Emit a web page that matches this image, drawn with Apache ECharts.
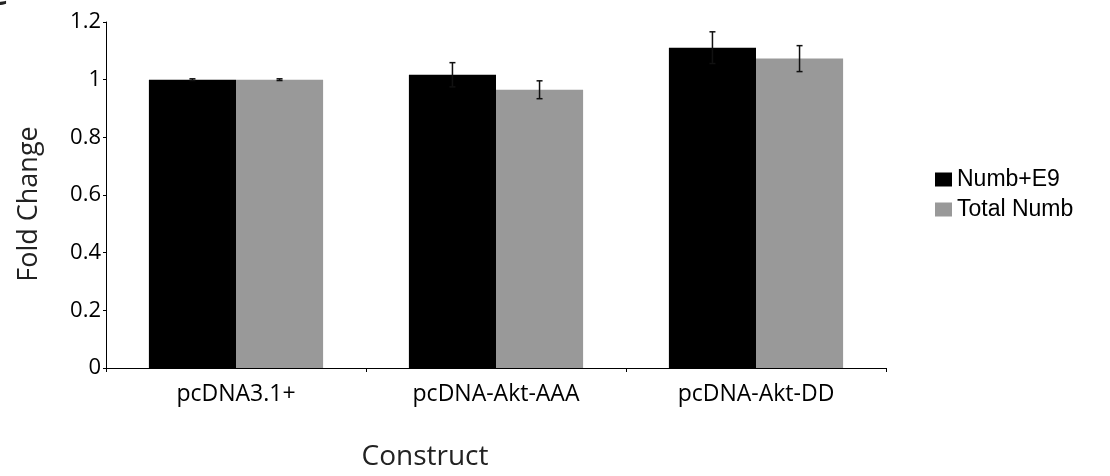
<!DOCTYPE html>
<html>
<head>
<meta charset="utf-8">
<script src="https://cdn.jsdelivr.net/npm/echarts@6/dist/echarts.min.js"></script>
<style>html,body{margin:0;padding:0;background:#fff;}#chart{width:1110px;height:476px;}</style>
</head>
<body>
<div id="chart"></div>
<script>
const categories = ['pcDNA3.1+', 'pcDNA-Akt-AAA', 'pcDNA-Akt-DD'];
const seriesNames = ['Numb+E9', 'Total Numb'];
const numbE9 = [1.0, 1.017, 1.111];
const numbE9Err = [0.003, 0.042, 0.055];
const totalNumb = [1.0, 0.965, 1.073];
const totalNumbErr = [0.003, 0.031, 0.045];
const yTicks = [0, 0.2, 0.4, 0.6, 0.8, 1, 1.2];

const chart = echarts.init(document.getElementById('chart'));
const axisFont = '"Open Sans", Lato, sans-serif';
const catGap = 0.33;

function errSeries(vals, errs, side) {
  return {
    type: 'custom',
    z: 10,
    silent: true,
    data: vals.map((v, i) => [i, v, errs[i]]),
    renderItem: function (params, api) {
      const i = api.value(0), v = api.value(1), e = api.value(2);
      const band = api.size([1, 0])[0];
      const bw = band * (1 - catGap) / 2;
      const c = api.coord([i, v]);
      const x = c[0] + side * bw / 2;
      const top = api.coord([i, v + e])[1];
      const bot = api.coord([i, v - e])[1];
      const cap = 3;
      const st = { stroke: '#111', lineWidth: 1.5 };
      return {
        type: 'group',
        children: [
          { type: 'line', shape: { x1: x, y1: top, x2: x, y2: bot }, style: st },
          { type: 'line', shape: { x1: x - cap, y1: top, x2: x + cap, y2: top }, style: st },
          { type: 'line', shape: { x1: x - cap, y1: bot, x2: x + cap, y2: bot }, style: st }
        ]
      };
    }
  };
}

chart.setOption({
  animation: false,
  backgroundColor: '#fff',
  grid: { left: 106, right: 224, top: 22, bottom: 107, containLabel: false },
  legend: {
    orient: 'vertical',
    left: 935,
    top: 168,
    padding: 0,
    itemWidth: 17,
    itemHeight: 14,
    itemGap: 7,
    icon: 'rect',
    data: seriesNames,
    textStyle: { fontFamily: '"Liberation Sans", Arial, sans-serif', fontSize: 23, lineHeight: 23, color: '#000' }
  },
  graphic: [
    { type: 'text', left: -18, top: -28, style: { text: 'C', fontSize: 42, fontFamily: axisFont, fill: '#222' } }
  ],
  xAxis: {
    type: 'category',
    data: categories,
    name: 'Construct',
    nameLocation: 'middle',
    nameGap: 75,
    nameTextStyle: { fontFamily: axisFont, fontSize: 28, color: '#222', padding: [0, 142, 0, 0] },
    axisLine: { lineStyle: { color: '#000', width: 1 } },
    axisTick: { show: true, length: 4, lineStyle: { color: '#000' } },
    axisLabel: { fontFamily: axisFont, fontSize: 23, color: '#000', margin: 15 }
  },
  yAxis: {
    type: 'value',
    min: 0,
    max: 1.2,
    interval: 0.2,
    name: 'Fold Change',
    nameLocation: 'middle',
    nameGap: 63,
    nameTextStyle: { fontFamily: axisFont, fontSize: 27, color: '#222', padding: [0, 18, 0, 0] },
    splitLine: { show: false },
    axisLine: { show: true, lineStyle: { color: '#000', width: 1 } },
    axisTick: { show: true, length: 3, lineStyle: { color: '#000' } },
    axisLabel: {
      fontFamily: axisFont, fontSize: 22, color: '#000', margin: 5,
      formatter: v => { const t = yTicks.find(x => Math.abs(x - v) < 1e-9); return t === undefined ? '' : String(t); }
    }
  },
  series: [
    { name: seriesNames[0], type: 'bar', data: numbE9, barGap: '0%', barCategoryGap: '33%', itemStyle: { color: '#000' } },
    { name: seriesNames[1], type: 'bar', data: totalNumb, barGap: '0%', barCategoryGap: '33%', itemStyle: { color: '#999999' } },
    errSeries(numbE9, numbE9Err, -1),
    errSeries(totalNumb, totalNumbErr, 1)
  ]
});
</script>
</body>
</html>
